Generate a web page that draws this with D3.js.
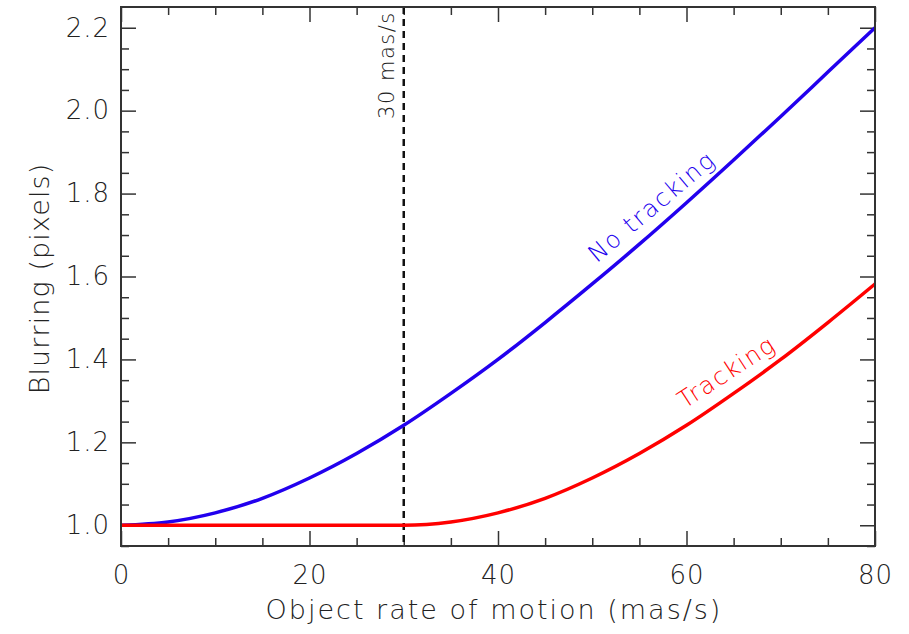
<!DOCTYPE html>
<html>
<head>
<meta charset="utf-8">
<script src="https://cdn.jsdelivr.net/npm/d3@7"></script>
<style>
	body { margin: 0; background: #fff; }
	svg text { font-family: "DejaVu Sans", sans-serif; font-weight: 200; fill: #222; }
</style>
</head>
<body>
<div id="chartContainer"></div>
<script>
// rate of motion (mas/s), sampled every 5
const rates = [0, 5, 10, 15, 20, 25, 30, 35, 40, 45, 50, 55, 60, 65, 70, 75, 80];
// blurring
const noTracking = [1.0, 1.008, 1.030, 1.065, 1.114, 1.173, 1.241, 1.318, 1.400, 1.489, 1.582, 1.678, 1.778, 1.881, 1.986, 2.093, 2.200];
const tracking = [1.0, 1.0, 1.0, 1.0, 1.0, 1.0, 1.0, 1.008, 1.030, 1.065, 1.114, 1.173, 1.241, 1.318, 1.400, 1.489, 1.582];
const xTicks = [0, 20, 40, 60, 80];
const yTicks = [1.0, 1.2, 1.4, 1.6, 1.8, 2.0, 2.2];
const markerRate = 30;

const chartContainer = document.getElementById('chartContainer');

function drawChart() {
	const W = 909, H = 634;
	const margin = { top: 7, right: 34, bottom: 88, left: 121 },
		width = W - margin.left - margin.right,
		height = H - margin.top - margin.bottom;

	const x = d3.scaleLinear().domain([0, 80]).range([0, width]);
	const y = d3.scaleLinear().domain([0.95, 2.25]).range([height, 0]);

	const svg = d3.select(chartContainer).append('svg')
		.attr('width', W)
		.attr('height', H);

	const g = svg.append('g')
		.attr('transform', `translate(${margin.left},${margin.top})`);

	const xMinor = d3.range(0, 81, 5).filter(d => d % 20 !== 0);
	const yMinor = d3.range(0, 26).map(i => 0.95 + i * 0.05).filter(d => Math.abs(Math.round(d * 5) - d * 5) > 0.01);

	const majorLen = 15, minorLen = 8;

	function styleAxis(sel) {
		sel.selectAll('.domain').remove();
		sel.selectAll('line').attr('stroke', '#333').attr('stroke-width', 1.5);
		sel.selectAll('text').attr('font-size', 26).attr('fill', '#222').attr('letter-spacing', 1);
	}

	// bottom
	g.append('g').attr('transform', `translate(0,${height})`)
		.call(d3.axisBottom(x).tickValues(xTicks).tickSize(-majorLen).tickPadding(20).tickFormat(d3.format('d')))
		.call(styleAxis);
	g.append('g').attr('transform', `translate(0,${height})`)
		.call(d3.axisBottom(x).tickValues(xMinor).tickSize(-minorLen).tickFormat(''))
		.call(styleAxis);
	// top
	g.append('g')
		.call(d3.axisTop(x).tickValues(xTicks).tickSize(-majorLen).tickFormat(''))
		.call(styleAxis);
	g.append('g')
		.call(d3.axisTop(x).tickValues(xMinor).tickSize(-minorLen).tickFormat(''))
		.call(styleAxis);
	// left
	g.append('g')
		.call(d3.axisLeft(y).tickValues(yTicks).tickSize(-majorLen).tickPadding(11).tickFormat(d3.format('.1f')))
		.call(styleAxis);
	g.append('g')
		.call(d3.axisLeft(y).tickValues(yMinor).tickSize(-minorLen).tickFormat(''))
		.call(styleAxis);
	// right
	g.append('g').attr('transform', `translate(${width},0)`)
		.call(d3.axisRight(y).tickValues(yTicks).tickSize(-majorLen).tickFormat(''))
		.call(styleAxis);
	g.append('g').attr('transform', `translate(${width},0)`)
		.call(d3.axisRight(y).tickValues(yMinor).tickSize(-minorLen).tickFormat(''))
		.call(styleAxis);

	// marker at 30 mas/s
	g.append('line')
		.attr('x1', x(markerRate)).attr('x2', x(markerRate))
		.attr('y1', 0).attr('y2', height)
		.attr('stroke', '#111')
		.attr('stroke-width', 2.5)
		.attr('stroke-dasharray', '7,5');

	g.append('text')
		.attr('transform', `translate(${x(markerRate) - 10},${y(1.98)}) rotate(-90)`)
		.attr('font-size', 21)
		.attr('letter-spacing', 1.5)
		.attr('text-anchor', 'start')
		.text('30 mas/s');

	const line = d3.line()
		.x((d, i) => x(rates[i]))
		.y(d => y(d))
		.curve(d3.curveMonotoneX);

	g.append('path')
		.datum(noTracking)
		.attr('d', line)
		.attr('fill', 'none')
		.attr('stroke', '#2200ee')
		.attr('stroke-width', 3.5);

	g.append('path')
		.datum(tracking)
		.attr('d', line)
		.attr('fill', 'none')
		.attr('stroke', '#ff0000')
		.attr('stroke-width', 3.5);

	// curve labels
	svg.append('text')
		.attr('transform', 'translate(657,213) rotate(-40)')
		.attr('text-anchor', 'middle')
		.attr('font-size', 24)
		.attr('letter-spacing', 1.8)
		.style('fill', '#2200ee')
		.text('No tracking');

	svg.append('text')
		.attr('transform', 'translate(731,379) rotate(-33)')
		.attr('text-anchor', 'middle')
		.attr('font-size', 24)
		.attr('letter-spacing', 1.5)
		.style('fill', '#ff0000')
		.text('Tracking');

	// frame
	g.append('rect')
		.attr('width', width).attr('height', height)
		.attr('fill', 'none')
		.attr('stroke', '#333')
		.attr('stroke-width', 2);

	// axis titles
	svg.append('text')
		.attr('x', margin.left + width / 2 - 4)
		.attr('y', 619)
		.attr('text-anchor', 'middle')
		.attr('font-size', 27)
		.attr('letter-spacing', 2)
		.text('Object rate of motion (mas/s)');

	svg.append('text')
		.attr('transform', `translate(49,${margin.top + height / 2 + 2}) rotate(-90)`)
		.attr('text-anchor', 'middle')
		.attr('font-size', 27)
		.attr('letter-spacing', 1.1)
		.text('Blurring (pixels)');
}

drawChart();
</script>
</body>
</html>
